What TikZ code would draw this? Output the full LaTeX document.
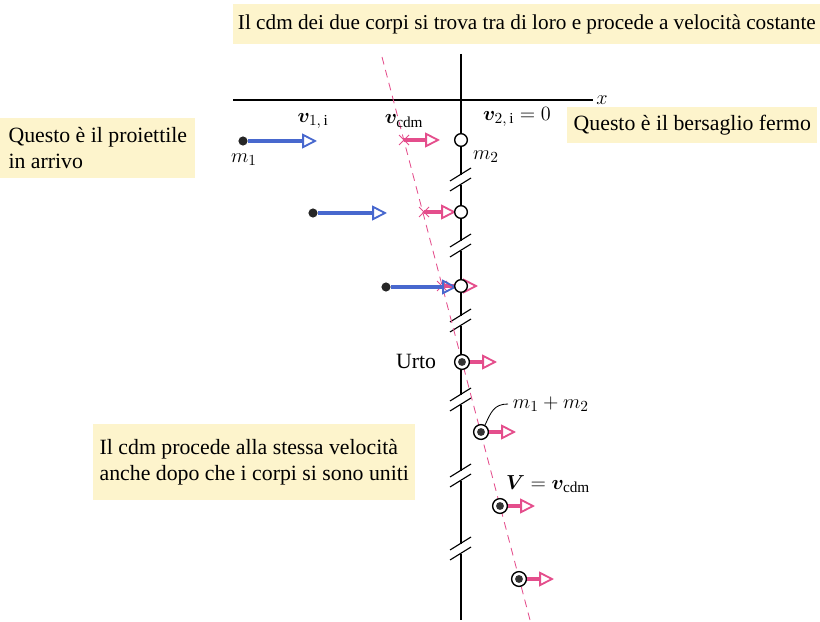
\documentclass[tikz,border=0pt]{standalone}
\usepackage{fontspec}
\setmainfont{Liberation Serif}
\usepackage{amsmath,bm}
\usetikzlibrary{arrows.meta}
\definecolor{vblue}{RGB}{72,104,206}
\definecolor{vpink}{RGB}{228,78,140}
\definecolor{notefill}{RGB}{253,244,204}
\tikzset{vel/.style = {line width=2.7pt,
                       -{Triangle[open,length=10.5pt,width=10.5pt,line width=1.3pt]}}}
\tikzset{circ/.style = {fill, black!85, circle, inner sep = 0, minimum size = 6.5pt}}
\tikzset{ring/.style = {draw, fill=white, circle, inner sep = 0, minimum size = 9pt, line width=1pt}}
\tikzset{bull/.style = {ring, minimum size = 10.5pt,
                        path picture={\fill[black!80] (path picture bounding box.center) circle (2.8pt);}}}
\tikzset{note/.style = {fill=notefill, anchor=north west, align=left, inner sep=0}}
\tikzset{cdmline/.style = {vpink, line width=0.6pt, dash pattern=on 5.5pt off 4pt}}
\tikzset{cross/.style = {vpink, line width=0.7pt}}

\begin{document}
\begin{tikzpicture}[x=0.025cm, y=-0.025cm, font=\fontsize{15.5}{18.5}\selectfont]
    \useasboundingbox (0,0) rectangle (820,622);

    % notes
    \node[note, minimum width=14.675cm, minimum height=1cm, font=\fontsize{15.1}{18}\selectfont]
        (topnote) at (233,4)
        {Il cdm dei due corpi si trova tra di loro e procede a velocità costante};
    \node[note, minimum width=4.875cm, minimum height=1.5cm] (leftnote) at (0,118)
        {Questo è il proiettile\\in arrivo};
    \node[note, minimum width=6.25cm, minimum height=0.9cm] (rightnote) at (567,107)
        {Questo è il bersaglio fermo};
    \node[note, minimum width=8.05cm, minimum height=1.9cm] (botnote) at (93,424)
        {Il cdm procede alla stessa velocità\\anche dopo che i corpi si sono uniti};

    % axes
    \draw[line width=0.8pt] (233,100) -- (593,100) node [right, inner sep=2pt] (lx) {$x$};
    \foreach \a/\b in {54/175, 185/241, 251/316, 326/395, 405/471, 481/544, 554/620}
        \draw[line width=0.8pt] (461,\a) -- (461,\b);
    \foreach \c in {180, 246, 321, 400, 476, 549} {
        \draw[line width=0.8pt] (450,\c+1) -- (471,\c-12);
        \draw[line width=0.8pt] (450,\c+11) -- (471,\c-2);
    }

    % path of the cdm
    \coordinate (ctop) at (382,57);
    \coordinate (cbot) at (530,620);
    \draw[cdmline] (ctop) -- (cbot);

    % cdm before the collision
    \coordinate (c1) at (404,140);
    \coordinate (c2) at (424,212);
    \coordinate (c3) at (442,286);
    \coordinate (c1e) at (440,140);
    \coordinate (c2e) at (456,212);
    \coordinate (c3e) at (478,286);
    \draw[cross] (c1) +(-5,-5) -- +(5,5) +(-5,5) -- +(5,-5);
    \draw[cross] (c2) +(-5,-5) -- +(5,5) +(-5,5) -- +(5,-5);
    \draw[cross] (c3) +(-5,-5) -- +(5,5) +(-5,5) -- +(5,-5);
    \draw[vel, vpink] (c1) -- (c1e);
    \draw[vel, vpink] (c2) -- (c2e);
    \draw[vel, vpink] (c3) -- (c3e);

    % projectile
    \node[circ] (p1) at (243,141) {};
    \node[circ] (p2) at (313,213) {};
    \node[circ] (p3) at (386,287) {};
    \coordinate (p1e) at (317,141);
    \coordinate (p2e) at (387,213);
    \coordinate (p3e) at (457,287);
    \draw[vel, vblue] (p1) -- (p1e);
    \draw[vel, vblue] (p2) -- (p2e);
    \draw[vel, vblue] (p3) -- (p3e);

    % target
    \node[ring] (t1) at (461,140) {};
    \node[ring] (t2) at (461,212) {};
    \node[ring] (t3) at (461,286) {};

    % after the collision
    \node[bull] (b4) at (462,362) {};
    \node[bull] (b5) at (481,432) {};
    \node[bull] (b6) at (500,506) {};
    \node[bull] (b7) at (519,579) {};
    \coordinate (b4e) at (497,362);
    \coordinate (b5e) at (516,432);
    \coordinate (b6e) at (535,506);
    \coordinate (b7e) at (554,579);
    \draw[vel, vpink] (b4) -- (b4e);
    \draw[vel, vpink] (b5) -- (b5e);
    \draw[vel, vpink] (b6) -- (b6e);
    \draw[vel, vpink] (b7) -- (b7e);

    % labels
    \node (lv1) at (313,121) {$\bm{v}_{1,\,\mathrm{i}}$};
    \node (lvc) at (404,121) {$\bm{v}_{\mathrm{cdm}}$};
    \node (lv2) at (517,117) {$\bm{v}_{2,\,\mathrm{i}} = 0$};
    \node (lm1) at (244,160) {$m_1$};
    \node (lm2) at (486,157) {$m_2$};
    \node (urto) at (416,361) {Urto};
    \node[anchor=west] (lm12) at (508,404) {$m_1 + m_2$};
    \node (lV) at (548,484) {$\bm{V} = \bm{v}_{\mathrm{cdm}}$};
    \draw[line width=0.6pt] (b5.60) .. controls (491,412) and (494,404) .. (lm12.west);
\end{tikzpicture}
\end{document}
